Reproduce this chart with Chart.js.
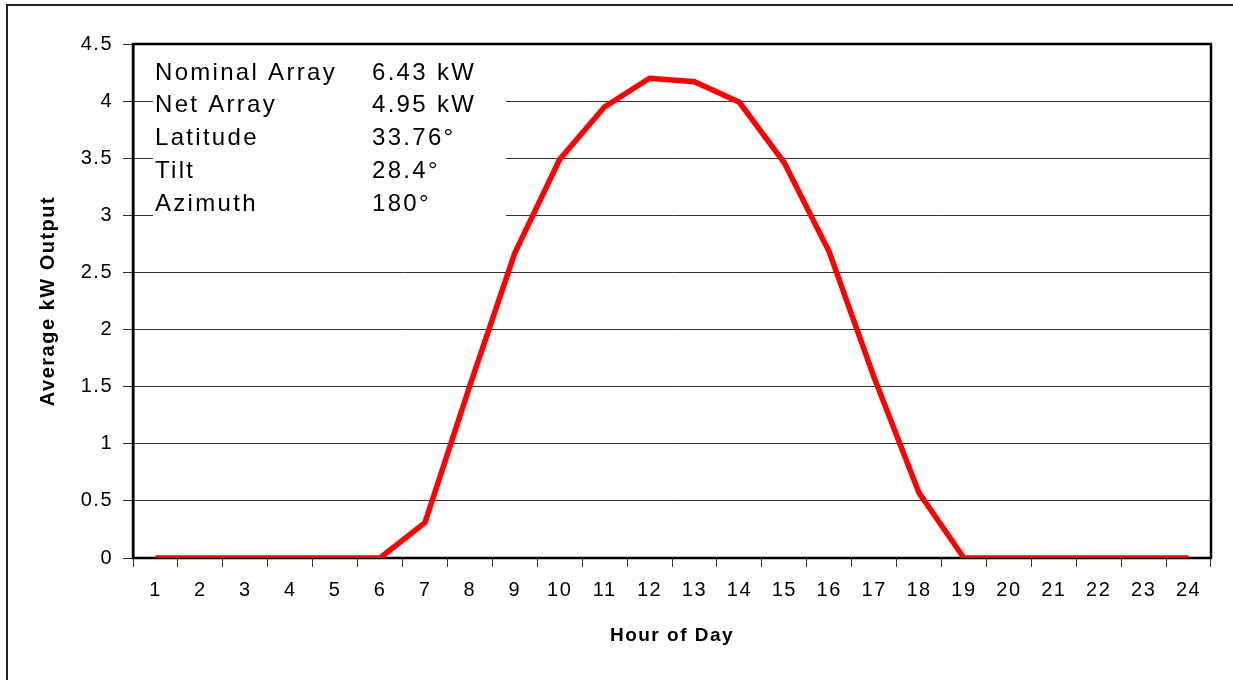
<!DOCTYPE html>
<html>
<head>
<meta charset="utf-8">
<script src="https://cdn.jsdelivr.net/npm/chart.js@4.4.1/dist/chart.umd.min.js"></script>
<style>
   html, body { margin: 0; padding: 0; background: #fff; }
   canvas { display: block; }
</style>
</head>
<body>
<canvas id="solar-chart" width="1233" height="680"></canvas>
<script>
const hours = ['1','2','3','4','5','6','7','8','9','10','11','12','13','14','15','16','17','18','19','20','21','22','23','24']
const avgOutput = [0, 0, 0, 0, 0, 0, 0.31, 1.51, 2.67, 3.49, 3.95, 4.2, 4.17, 3.99, 3.46, 2.68, 1.58, 0.57, 0, 0, 0, 0, 0, 0]
const infoNames = ['Nominal Array', 'Net Array', 'Latitude', 'Tilt', 'Azimuth']
const infoValues = ['6.43 kW', '4.95 kW', '33.76°', '28.4°', '180°']

const FONT = "'Liberation Sans', Arial, sans-serif"
const chartE = document.getElementById('solar-chart')

// spacing + frames + the info box, drawn by hand around the chart
const decor = {
   id: 'decor',
   beforeUpdate(chart) {
      chart.ctx.letterSpacing = '1.5px'
   },
   beforeDraw(chart) {
      const ctx = chart.ctx
      ctx.letterSpacing = '1.5px'
      ctx.save()
      ctx.strokeStyle = '#222'
      ctx.lineWidth = 2
      ctx.strokeRect(7, 5, 1240, 700)
      ctx.restore()
   },
   beforeDatasetsDraw(chart) {
      const ctx = chart.ctx
      const a = chart.chartArea
      ctx.save()
      ctx.strokeStyle = '#000'
      ctx.lineWidth = 2.5
      ctx.strokeRect(a.left, a.top, a.right - a.left, a.bottom - a.top)

      ctx.fillStyle = '#fff'
      ctx.fillRect(153, 55, 353, 167)
      ctx.fillStyle = '#000'
      ctx.font = '24px ' + FONT
      ctx.letterSpacing = '2.3px'
      ctx.textBaseline = 'middle'
      ctx.textAlign = 'left'
      for (let i = 0; i < infoNames.length; ++i) {
         const y = 73 + i * 32.8
         ctx.fillText(infoNames[i], 155, y)
         ctx.fillText(infoValues[i], 372, y)
      }
      ctx.restore()
   }
}

new Chart(chartE, {
   type: 'line',
   data: {
      labels: hours,
      datasets: [{
         data: avgOutput,
         borderColor: '#ff0000',
         borderWidth: 5.5,
         pointRadius: 0,
         tension: 0,
         fill: false
      }]
   },
   options: {
      responsive: false,
      devicePixelRatio: 1,
      animation: false,
      layout: { padding: { top: 44, right: 22, left: 0, bottom: 0 } },
      plugins: {
         legend: { display: false },
         tooltip: { enabled: false }
      },
      scales: {
         x: {
            offset: true,
            grid: { offset: true, drawOnChartArea: false, tickLength: 9, color: '#333' },
            border: { display: true, color: '#000', width: 2 },
            ticks: { color: '#000', font: { family: FONT, size: 20 }, padding: 11, maxRotation: 0, autoSkip: false },
            title: {
               display: true, text: 'Hour of Day', color: '#000',
               font: { family: FONT, size: 19, weight: 'bold' },
               padding: { top: 0, bottom: 33 }
            },
            afterFit: s => { s.height = 122 }
         },
         y: {
            min: 0,
            max: 4.5,
            ticks: {
               stepSize: 0.5, color: '#000', font: { family: FONT, size: 20 }, padding: 10,
               callback: v => String(+v.toFixed(1))
            },
            grid: { color: '#333', tickLength: 10, lineWidth: 1 },
            border: { display: true, color: '#000', width: 2.5 },
            title: {
               display: true, text: 'Average kW Output', color: '#000',
               font: { family: FONT, size: 20, weight: 'bold' },
               padding: { top: 36, bottom: 0 }
            },
            afterFit: s => { s.width = 133 }
         }
      }
   },
   plugins: [decor]
})
</script>
</body>
</html>
